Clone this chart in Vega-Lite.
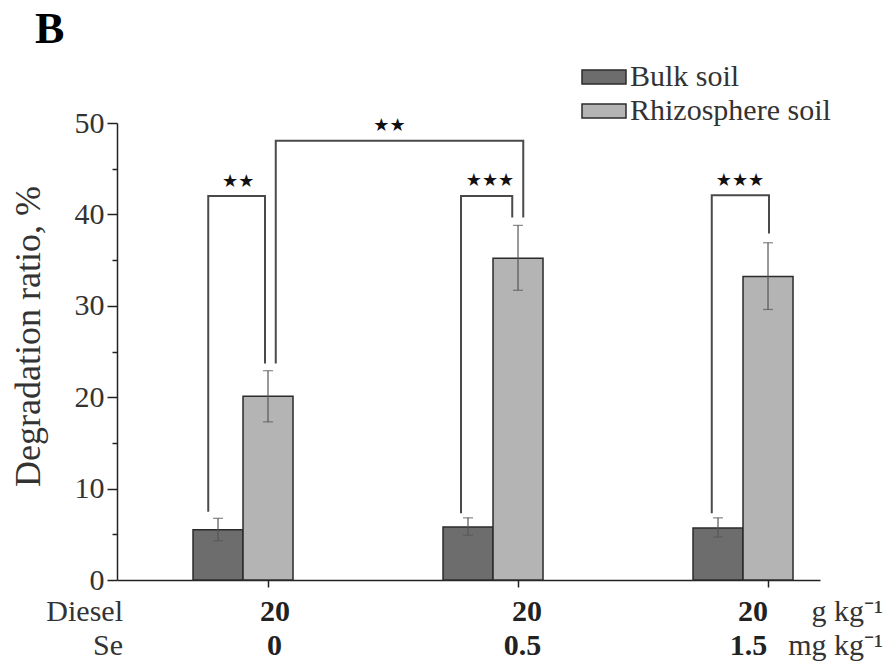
{
  "$schema": "https://vega.github.io/schema/vega-lite/v6.json",
  "width": 703,
  "height": 457,
  "autosize": "none",
  "padding": {"left": 117, "top": 123, "right": 70, "bottom": 82},
  "background": "white",
  "config": {"view": {"stroke": null}},
  "datasets": {
    "bars": [
      {"se": "0", "soil": "Bulk soil", "ratio": 5.5, "lo": 4.3, "hi": 6.75},
      {"se": "0", "soil": "Rhizosphere soil", "ratio": 20.1, "lo": 17.3, "hi": 22.9},
      {"se": "0.5", "soil": "Bulk soil", "ratio": 5.8, "lo": 4.9, "hi": 6.8},
      {"se": "0.5", "soil": "Rhizosphere soil", "ratio": 35.2, "lo": 31.7, "hi": 38.8},
      {"se": "1.5", "soil": "Bulk soil", "ratio": 5.7, "lo": 4.7, "hi": 6.8},
      {"se": "1.5", "soil": "Rhizosphere soil", "ratio": 33.2, "lo": 29.6, "hi": 36.9}
    ],
    "minor": [{"v": 5}, {"v": 15}, {"v": 25}, {"v": 35}, {"v": 45}],
    "brackets": [
      {"b": "A", "k": 1, "ax": 0.860, "ay": 7.47},
      {"b": "A", "k": 2, "ax": 0.860, "ay": 42.0},
      {"b": "A", "k": 3, "ax": 1.087, "ay": 42.0},
      {"b": "A", "k": 4, "ax": 1.087, "ay": 23.7},
      {"b": "B", "k": 1, "ax": 1.130, "ay": 23.7},
      {"b": "B", "k": 2, "ax": 1.130, "ay": 48.05},
      {"b": "B", "k": 3, "ax": 2.120, "ay": 48.05},
      {"b": "B", "k": 4, "ax": 2.120, "ay": 39.66},
      {"b": "C", "k": 1, "ax": 1.871, "ay": 7.3},
      {"b": "C", "k": 2, "ax": 1.871, "ay": 42.0},
      {"b": "C", "k": 3, "ax": 2.076, "ay": 42.0},
      {"b": "C", "k": 4, "ax": 2.076, "ay": 39.66},
      {"b": "D", "k": 1, "ax": 2.874, "ay": 7.3},
      {"b": "D", "k": 2, "ax": 2.874, "ay": 42.1},
      {"b": "D", "k": 3, "ax": 3.103, "ay": 42.1},
      {"b": "D", "k": 4, "ax": 3.103, "ay": 37.9}
    ],
    "stars": [
      {"ax": 0.980, "ay": 43.55, "t": "★★"},
      {"ax": 1.585, "ay": 49.7, "t": "★★"},
      {"ax": 1.987, "ay": 43.6, "t": "★★★"},
      {"ax": 2.987, "ay": 43.6, "t": "★★★"}
    ],
    "panel": [
      {"ax": 0.167, "ay": 58.7, "t": "B"}
    ],
    "rowlabels": [
      {"ax": 0.519, "ay": -4.48, "t": "Diesel"},
      {"ax": 0.519, "ay": -8.2, "t": "Se"}
    ],
    "levels": [
      {"ax": 1.127, "ay": -4.48, "t": "20"},
      {"ax": 2.135, "ay": -4.48, "t": "20"},
      {"ax": 3.039, "ay": -4.48, "t": "20"},
      {"ax": 1.125, "ay": -8.2, "t": "0"},
      {"ax": 2.117, "ay": -8.2, "t": "0.5"},
      {"ax": 3.021, "ay": -8.2, "t": "1.5"}
    ],
    "units": [
      {"ax": 3.559, "ay": -4.48, "t": "g kg⁻¹"},
      {"ax": 3.559, "ay": -8.2, "t": "mg kg⁻¹"}
    ]
  },
  "resolve": {"scale": {"x": "independent"}, "axis": {"y": "independent", "x": "independent"}},
  "layer": [
    {
      "data": {"name": "bars"},
      "mark": {"type": "bar", "stroke": "#2b2b2b", "strokeWidth": 1.5},
      "encoding": {
        "x": {"field": "se", "type": "nominal", "sort": ["0", "0.5", "1.5"],
              "scale": {"paddingInner": 0.6, "paddingOuter": 0.206, "align": 0.738},
              "axis": {"title": null, "labels": false, "bandPosition": 0.75, "tickSize": 7, "tickWidth": 1.5, "tickColor": "#222", "domainColor": "#222", "domainWidth": 1.5, "grid": false}},
        "xOffset": {"field": "soil", "type": "nominal", "sort": ["Bulk soil", "Rhizosphere soil"], "scale": {"paddingInner": 0, "paddingOuter": 0}},
        "y": {"field": "ratio", "type": "quantitative", "scale": {"domain": [0, 50], "nice": false},
              "axis": {"orient": "left", "title": "Degradation ratio, %", "values": [0, 10, 20, 30, 40, 50],
                       "tickSize": 10, "tickWidth": 1.5, "tickColor": "#222", "domainColor": "#222", "domainWidth": 1.5, "grid": false,
                       "labelFont": "Liberation Serif", "labelFontSize": 30, "labelColor": "#333", "labelPadding": 3,
                       "titleFont": "Liberation Serif", "titleFontSize": 36, "titleFontWeight": "normal", "titleColor": "#333",
                       "titleX": -78, "titleY": 213, "titleBaseline": "alphabetic", "titleAlign": "center", "titleAngle": -90}},
        "fill": {"field": "soil", "type": "nominal", "scale": {"domain": ["Bulk soil", "Rhizosphere soil"], "range": ["#6d6d6d", "#b4b4b4"]},
                 "legend": {"title": null, "orient": "none", "legendX": 472, "legendY": -61, "padding": 0,
                            "symbolType": "M-2,-0.64H2V0.64H-2Z", "symbolSize": 484, "symbolStrokeColor": "#2b2b2b", "symbolStrokeWidth": 1.5,
                            "labelFont": "Liberation Serif", "labelFontSize": 30, "labelColor": "#333", "labelOffset": 11, "labelLimit": 400, "rowPadding": 4}}
      }
    },
    {
      "data": {"name": "minor"},
      "mark": {"type": "point", "opacity": 0},
      "encoding": {
        "y": {"field": "v", "type": "quantitative",
              "axis": {"orient": "left", "title": null, "values": [5, 15, 25, 35, 45], "labels": false, "domain": false, "grid": false,
                       "tickSize": 5, "tickWidth": 1.5, "tickColor": "#222"}}
      }
    },
    {
      "data": {"name": "bars"},
      "mark": {"type": "rule", "color": "#555", "strokeWidth": 1.2},
      "encoding": {
        "x": {"field": "se", "type": "nominal", "sort": ["0", "0.5", "1.5"], "scale": {"paddingInner": 0.6, "paddingOuter": 0.206, "align": 0.738}, "axis": null},
        "xOffset": {"field": "soil", "type": "nominal", "sort": ["Bulk soil", "Rhizosphere soil"], "scale": {"paddingInner": 0, "paddingOuter": 0}},
        "y": {"field": "lo", "type": "quantitative", "axis": null},
        "y2": {"field": "hi"}
      }
    },
    {
      "data": {"name": "bars"},
      "mark": {"type": "tick", "color": "#555", "thickness": 1.2, "size": 10, "orient": "horizontal"},
      "encoding": {
        "x": {"field": "se", "type": "nominal", "sort": ["0", "0.5", "1.5"], "scale": {"paddingInner": 0.6, "paddingOuter": 0.206, "align": 0.738}, "axis": null},
        "xOffset": {"field": "soil", "type": "nominal", "sort": ["Bulk soil", "Rhizosphere soil"], "scale": {"paddingInner": 0, "paddingOuter": 0}},
        "y": {"field": "lo", "type": "quantitative", "axis": null}
      }
    },
    {
      "data": {"name": "bars"},
      "mark": {"type": "tick", "color": "#555", "thickness": 1.2, "size": 10, "orient": "horizontal"},
      "encoding": {
        "x": {"field": "se", "type": "nominal", "sort": ["0", "0.5", "1.5"], "scale": {"paddingInner": 0.6, "paddingOuter": 0.206, "align": 0.738}, "axis": null},
        "xOffset": {"field": "soil", "type": "nominal", "sort": ["Bulk soil", "Rhizosphere soil"], "scale": {"paddingInner": 0, "paddingOuter": 0}},
        "y": {"field": "hi", "type": "quantitative", "axis": null}
      }
    },
    {
      "data": {"name": "brackets"},
      "mark": {"type": "line", "color": "#4a4a4a", "strokeWidth": 2, "strokeJoin": "miter"},
      "encoding": {
        "x": {"field": "ax", "type": "quantitative", "scale": {"domain": [0.495, 3.307], "nice": false, "zero": false}, "axis": null},
        "y": {"field": "ay", "type": "quantitative", "axis": null},
        "detail": {"field": "b"},
        "order": {"field": "k"}
      }
    },
    {
      "data": {"name": "stars"},
      "mark": {"type": "text", "font": "DejaVu Sans", "fontSize": 18, "color": "#111", "baseline": "middle", "align": "center"},
      "encoding": {
        "x": {"field": "ax", "type": "quantitative", "scale": {"domain": [0.495, 3.307], "nice": false, "zero": false}, "axis": null},
        "y": {"field": "ay", "type": "quantitative", "axis": null},
        "text": {"field": "t"}
      }
    },
    {
      "data": {"name": "panel"},
      "mark": {"type": "text", "font": "Liberation Serif", "fontSize": 44, "fontWeight": "bold", "color": "#000", "baseline": "alphabetic", "align": "left"},
      "encoding": {
        "x": {"field": "ax", "type": "quantitative", "scale": {"domain": [0.495, 3.307], "nice": false, "zero": false}, "axis": null},
        "y": {"field": "ay", "type": "quantitative", "axis": null},
        "text": {"field": "t"}
      }
    },
    {
      "data": {"name": "rowlabels"},
      "mark": {"type": "text", "font": "Liberation Serif", "fontSize": 30, "color": "#333", "baseline": "alphabetic", "align": "right"},
      "encoding": {
        "x": {"field": "ax", "type": "quantitative", "scale": {"domain": [0.495, 3.307], "nice": false, "zero": false}, "axis": null},
        "y": {"field": "ay", "type": "quantitative", "axis": null},
        "text": {"field": "t"}
      }
    },
    {
      "data": {"name": "levels"},
      "mark": {"type": "text", "font": "Liberation Serif", "fontSize": 30, "fontWeight": "bold", "color": "#222", "baseline": "alphabetic", "align": "center"},
      "encoding": {
        "x": {"field": "ax", "type": "quantitative", "scale": {"domain": [0.495, 3.307], "nice": false, "zero": false}, "axis": null},
        "y": {"field": "ay", "type": "quantitative", "axis": null},
        "text": {"field": "t"}
      }
    },
    {
      "data": {"name": "units"},
      "mark": {"type": "text", "font": "Liberation Serif", "fontSize": 30, "color": "#333", "baseline": "alphabetic", "align": "right"},
      "encoding": {
        "x": {"field": "ax", "type": "quantitative", "scale": {"domain": [0.495, 3.307], "nice": false, "zero": false}, "axis": null},
        "y": {"field": "ay", "type": "quantitative", "axis": null},
        "text": {"field": "t"}
      }
    }
  ]
}
